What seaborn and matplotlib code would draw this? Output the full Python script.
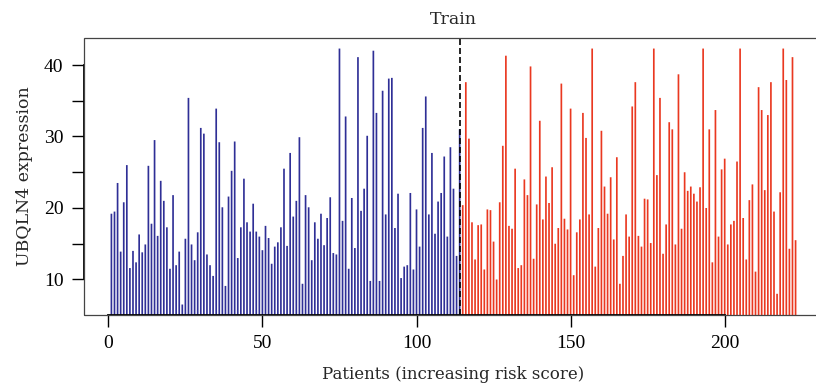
import numpy as np
import pandas as pd
import matplotlib
matplotlib.use("Agg")
import matplotlib.pyplot as plt
import seaborn as sns
from matplotlib.patches import Rectangle

# UBQLN4 expression for each training patient, ordered by increasing risk score
low_risk = [
    19.2, 19.5, 23.5, 13.9, 20.8, 26.0, 11.6, 14.0, 12.4, 16.3,
    13.8, 14.9, 25.9, 17.8, 29.5, 16.1, 23.8, 21.0, 17.3, 11.5,
    21.8, 12.0, 13.9, 6.5, 15.7, 35.4, 14.9, 12.7, 16.6, 31.2,
    30.4, 13.5, 12.0, 10.5, 33.9, 29.2, 20.1, 9.1, 21.6, 25.2,
    29.3, 13.0, 17.3, 24.1, 18.0, 16.7, 20.6, 16.7, 16.0, 14.1,
    17.5, 15.8, 12.2, 14.6, 15.2, 17.3, 25.5, 14.7, 27.7, 18.8,
    21.0, 29.9, 9.4, 21.8, 20.1, 12.7, 18.0, 15.7, 19.2, 14.8,
    18.6, 21.5, 13.7, 13.5, 42.3, 18.2, 32.8, 11.5, 21.4, 14.4,
    41.1, 19.6, 22.7, 30.1, 9.8, 42.0, 33.3, 9.8, 36.4, 19.1,
    38.1, 38.2, 17.2, 22.0, 10.2, 11.8, 12.0, 22.1, 11.4, 19.8,
    14.6, 31.2, 35.6, 19.1, 27.7, 16.4, 20.9, 22.1, 27.2, 16.0,
    28.5, 22.7, 13.3, 31.0,
]
high_risk = [
    20.4, 37.6, 29.7, 18.0, 12.8, 17.6, 17.7, 11.4, 19.8, 19.7,
    15.3, 10.0, 20.8, 28.7, 41.3, 17.5, 17.1, 25.5, 11.6, 12.0,
    24.0, 21.8, 39.8, 12.9, 20.5, 32.2, 18.4, 24.4, 20.7, 25.7,
    15.0, 17.2, 37.4, 18.5, 17.0, 33.9, 10.6, 16.6, 18.4, 33.3,
    29.8, 19.1, 42.3, 11.8, 17.2, 30.8, 23.0, 19.2, 24.3, 15.6,
    27.1, 9.4, 13.3, 19.1, 16.0, 34.2, 37.6, 16.1, 14.6, 21.3,
    21.2, 15.1, 42.3, 24.6, 35.4, 13.6, 17.7, 32.0, 31.0, 14.9,
    38.7, 17.1, 25.0, 22.4, 23.0, 22.0, 20.9, 22.9, 42.3, 20.0,
    31.0, 12.4, 33.7, 16.0, 25.4, 26.9, 14.9, 17.7, 18.2, 26.5,
    42.3, 18.6, 12.8, 21.1, 23.3, 11.1, 36.9, 33.7, 22.5, 33.0,
    37.6, 19.5, 8.0, 22.2, 42.3, 37.9, 14.3, 41.1, 15.5,
]
groups = ["low", "high"]
group_colors = {"low": "#2F2F96", "high": "#EA3820"}

x_ticks = [0, 50, 100, 150, 200]
y_ticks = [10, 15, 20, 25, 30, 35, 40]
y_tick_labels = ["10", "", "20", "", "30", "", "40"]

expr = low_risk + high_risk
n = len(expr)
df = pd.DataFrame({
    "patient": np.arange(1, n + 1),
    "expression": expr,
    "group": ["low"] * len(low_risk) + ["high"] * len(high_risk),
})
cutoff = len(low_risk)

sns.set_style("ticks")
plt.rcParams["font.family"] = ["Liberation Serif", "DejaVu Serif"]
label_font = ["DejaVu Serif"]

fig = plt.figure(figsize=(8.16, 3.91), dpi=100)
ax = fig.add_axes([0.103, 0.195, 1.0085 - 0.103, 0.902 - 0.195])

sns.barplot(
    data=df, x="patient", y="expression", hue="group", hue_order=groups,
    palette=group_colors, native_scale=True, dodge=False, width=0.55,
    linewidth=0, errorbar=None, legend=False, ax=ax, saturation=1,
)
# keep the thin bars evenly anti-aliased instead of pixel-snapped
for bar in ax.patches:
    bar.set_snap(False)

# R-style axis extents (4% padding on each side)
xr = n - 1
ax.set_xlim(1 - 0.04 * xr, n + 0.04 * xr)
lo, hi = min(expr), max(expr)
ax.set_ylim(lo - 0.04 * (hi - lo), hi + 0.04 * (hi - lo))

ax.axvline(cutoff, color="black", lw=1.2, ls=(0, (3.6, 1.8)), zorder=5)

ax.set_xticks(x_ticks)
ax.set_xticklabels([str(t) for t in x_ticks])
ax.set_yticks(y_ticks)
ax.set_yticklabels(y_tick_labels)
ax.tick_params(axis="both", direction="out", length=8.8, width=1.0,
               color="black", labelsize=14, labelcolor="black")
ax.tick_params(axis="x", pad=6)
ax.tick_params(axis="y", pad=6)

for side in ["top", "right"]:
    ax.spines[side].set_visible(False)
ax.spines["bottom"].set_bounds(x_ticks[0], x_ticks[-1])
ax.spines["left"].set_bounds(10, 40)
for side in ["bottom", "left"]:
    ax.spines[side].set_linewidth(1.3)
    ax.spines[side].set_color("black")

# plot box
ax.add_patch(Rectangle((0, 0), 1, 1, transform=ax.transAxes, fill=False,
                       lw=0.9, edgecolor="#444444", clip_on=False, zorder=6))

ax.set_xlabel("Patients (increasing risk score)", fontsize=12,
              family=label_font, labelpad=10)
ax.set_ylabel("UBQLN4 expression", fontsize=12.5, family=label_font,
              labelpad=8)
ax.set_title("Train", fontsize=12.5, family=label_font, pad=10)
ax.grid(False)

fig.savefig("out.png", dpi=100)
